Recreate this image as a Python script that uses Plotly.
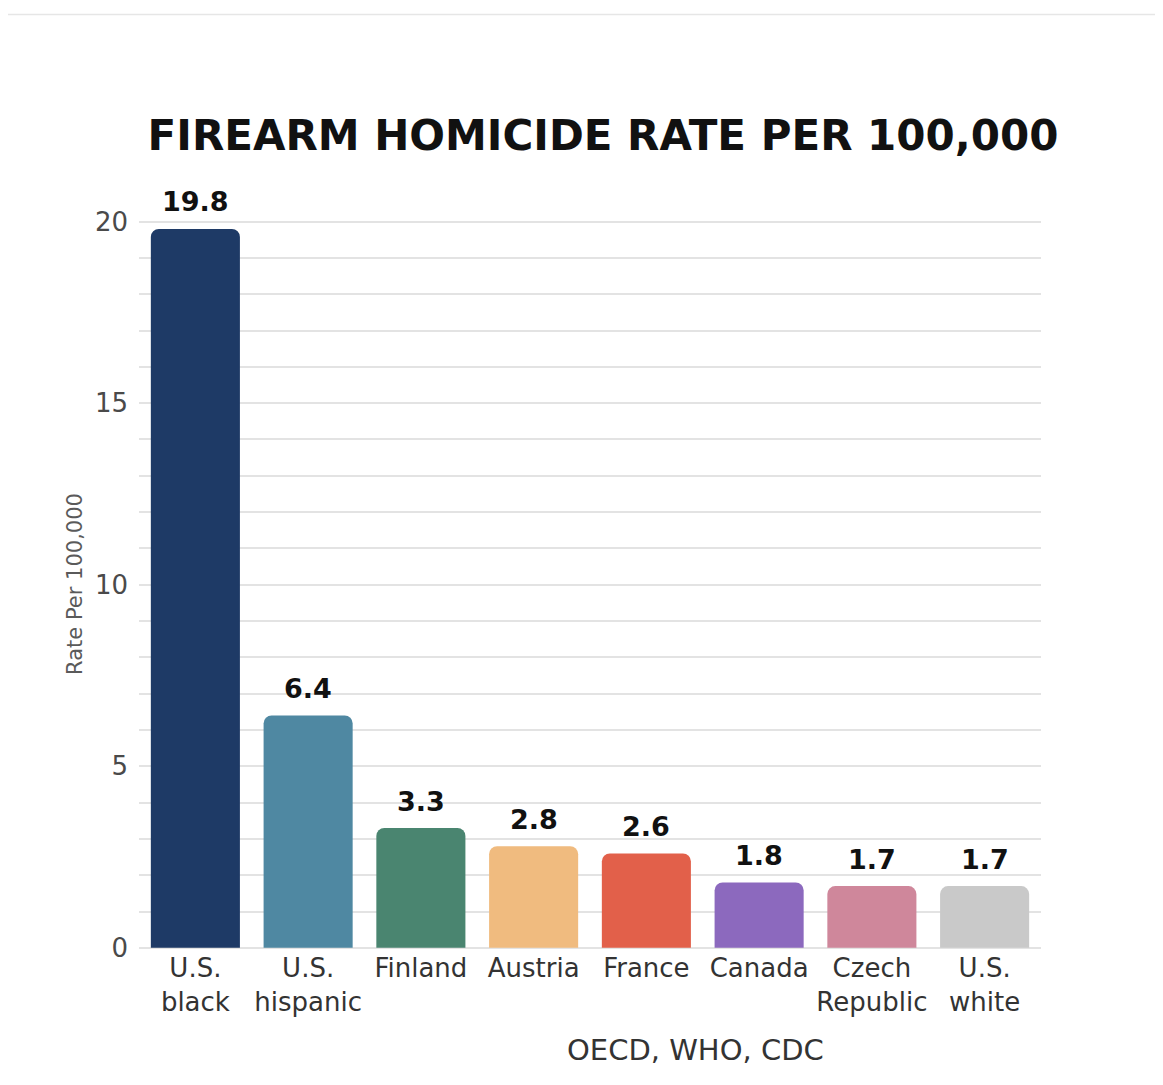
import plotly.graph_objects as go

categories = ["U.S.<br>black", "U.S.<br>hispanic", "Finland", "Austria", "France",
              "Canada", "Czech<br>Republic", "U.S.<br>white"]
rates = [19.8, 6.4, 3.3, 2.8, 2.6, 1.8, 1.7, 1.7]
bar_colors = ["#1e3a66", "#4f88a2", "#4a8570", "#f0bb7f", "#e2604a",
              "#8c69be", "#cf879b", "#c9c9c9"]
y_ticks = [0, 5, 10, 15, 20]

FONT = "DejaVu Sans"
OFF = 8  # page body margin
W, H = 1163 - 2 * OFF, 1085 - 2 * OFF
Y_LO, Y_HI = -0.06, 20.1
px_per_unit = (948 - 222) / 20.0
plot_left, plot_right = 139 - OFF, 1041 - OFF
plot_top = 222 - OFF - (Y_HI - 20) * px_per_unit
plot_bottom = 948 - OFF - Y_LO * px_per_unit
L, R, T, B = plot_left, W - plot_right, plot_top, H - plot_bottom
pw = W - L - R
ph = H - T - B

fig = go.Figure(go.Bar(
    x=categories, y=rates,
    marker=dict(color=bar_colors, cornerradius=8, line=dict(width=0)),
    hoverinfo="x+y",
))

# value labels above bars
for c, v in zip(categories, rates):
    fig.add_annotation(x=c, y=v, text=f"<b>{v:.1f}</b>", showarrow=False,
                       xanchor="center", yanchor="middle", yshift=27,
                       font=dict(family=FONT, size=27, color="#111111"))

fig.update_layout(
    width=W, height=H,
    margin=dict(l=L, r=R, t=T, b=B),
    paper_bgcolor="white", plot_bgcolor="white",
    bargap=0.21,
    showlegend=False,
    title=dict(text="<b>FIREARM HOMICIDE RATE PER 100,000</b>",
               font=dict(family=FONT, size=42, color="#111111"),
               xref="container", x=(603 - OFF) / W, xanchor="center",
               yref="container", y=1 - (135 - OFF) / H, yanchor="middle"),
    font=dict(family=FONT, color="#333333"),
)

fig.update_yaxes(
    range=[Y_LO, Y_HI], tickvals=y_ticks, showgrid=True, gridcolor="#e3e3e3", gridwidth=1.5,
    minor=dict(tick0=0, dtick=1, showgrid=True, gridcolor="#e3e3e3", gridwidth=1.5),
    zeroline=False, showline=False, ticks="",
    tickfont=dict(family=FONT, size=26, color="#4a4a4a"),
    ticklabelstandoff=10,
    title=dict(text="Rate Per 100,000", standoff=6,
               font=dict(family=FONT, size=21, color="#5a5a5a")),
)
fig.update_xaxes(
    showline=False, ticks="", showgrid=False,
    tickfont=dict(family=FONT, size=26, color="#333333"),
)

fig.add_annotation(text="OECD, WHO, CDC", xref="paper", yref="paper",
                   x=(695 - OFF - L) / pw, y=-(1050 - OFF - plot_bottom) / ph,
                   xanchor="center", yanchor="middle", showarrow=False,
                   font=dict(family=FONT, size=29, color="#333333"))

fig.add_shape(type="line", xref="paper", yref="paper",
              x0=-L / pw, x1=(W - L) / pw,
              y0=(plot_bottom - (15 - OFF)) / ph, y1=(plot_bottom - (15 - OFF)) / ph,
              line=dict(color="#e6e6e6", width=1.5))

fig.write_html("out.html")
